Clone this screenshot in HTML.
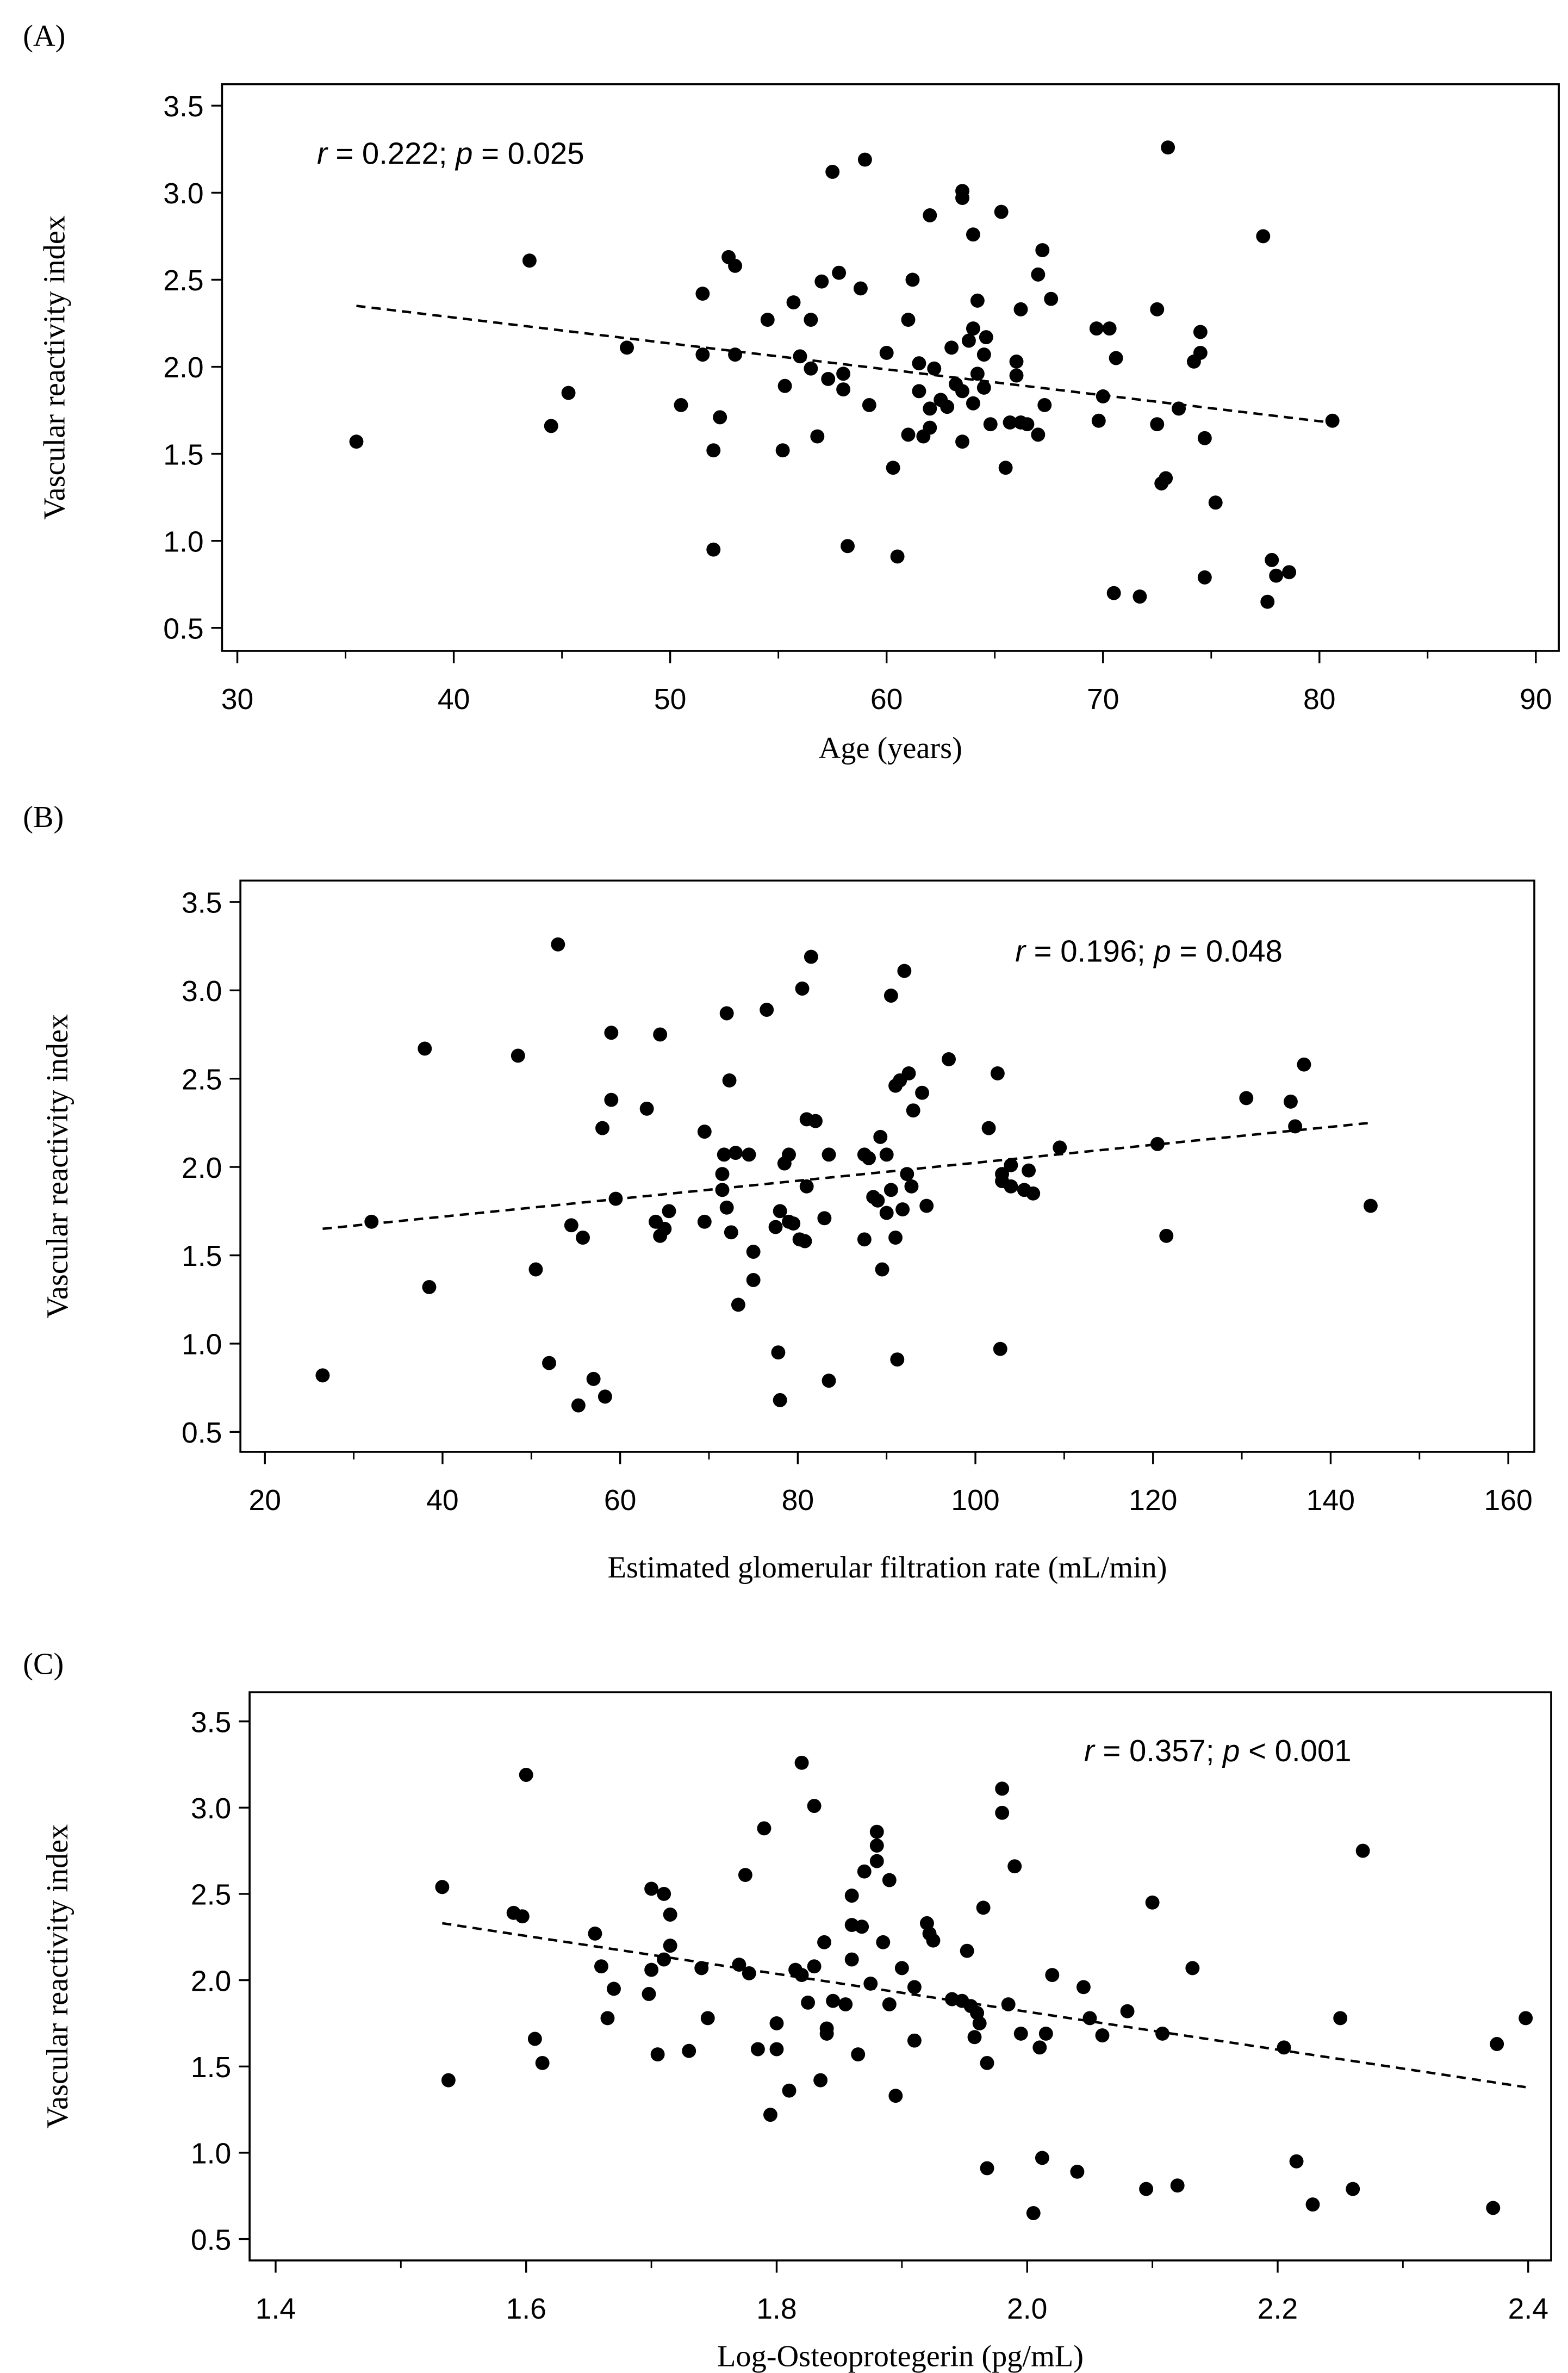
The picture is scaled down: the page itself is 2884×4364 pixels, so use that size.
<!DOCTYPE html>
<html><head><meta charset="utf-8"><style>
html,body{margin:0;padding:0;background:#fff;}
svg{display:block;}
.tk{font-family:"Liberation Sans",sans-serif;font-size:19px;fill:#000;}
.ttl{font-family:"Liberation Serif",serif;font-size:20px;fill:#000;}
.ann{font-family:"Liberation Sans",sans-serif;font-size:20px;fill:#000;}
</style></head><body>
<svg id="fig" width="2884" height="4364" viewBox="0 0 1024 1549.5" xmlns="http://www.w3.org/2000/svg">
<rect width="1024" height="1549.5" fill="#fff"/>
</svg>
<script>
const ageX=[35.5,43.5,44.5,45.3,48,50.5,51.5,51.5,52,52,52.3,52.7,53,53,54.5,55.2,55.3,55.7,56,56.5,56.5,56.8,57,57.3,57.5,57.8,58,58,58.2,58.8,59,59.2,60,60.3,60.5,61,61,61.2,61.5,61.5,61.7,62,62,62,62.2,62.5,62.8,63,63.2,63.5,63.5,63.5,63.5,63.8,64,64,64,64.2,64.2,64.5,64.5,64.6,64.8,65.3,65.5,65.7,66,66,66.2,66.2,66.5,67,67,67.2,67.3,67.6,69.7,69.8,70,70.3,70.6,70.5,71.7,72.5,72.5,72.7,72.9,73,73.5,74.2,74.5,74.5,74.7,74.7,75.2,77.4,77.6,77.8,78,78.6,80.6];
const ageY=[1.57,2.61,1.66,1.85,2.11,1.78,2.42,2.07,1.52,0.95,1.71,2.63,2.58,2.07,2.27,1.52,1.89,2.37,2.06,2.27,1.99,1.60,2.49,1.93,3.12,2.54,1.96,1.87,0.97,2.45,3.19,1.78,2.08,1.42,0.91,1.61,2.27,2.50,2.02,1.86,1.60,1.76,2.87,1.65,1.99,1.81,1.77,2.11,1.90,2.97,3.01,1.86,1.57,2.15,2.76,2.22,1.79,2.38,1.96,2.07,1.88,2.17,1.67,2.89,1.42,1.68,2.03,1.95,2.33,1.68,1.67,2.53,1.61,2.67,1.78,2.39,2.22,1.69,1.83,2.22,2.05,0.70,0.68,1.67,2.33,1.33,1.36,3.26,1.76,2.03,2.08,2.20,1.59,0.79,1.22,2.75,0.65,0.89,0.80,0.82,1.69];
const egfrX=[26.5,32,38,38.5,48.5,50.5,52,53,54.5,55.3,55.8,57,58,58.3,59,59,59.5,63,64,64.5,64.5,65,65.5,69.5,69.5,71.5,71.5,71.7,72,72,72.3,72.5,73,73.3,74.5,75,75,76.5,77.5,77.8,78,78,78.5,79,79,79.5,80.2,80.5,80.8,81,81,81.5,82,83,83.5,83.5,87.5,87.5,88,88.5,89,89.3,89.5,90,90,90.5,90.5,91,91,91.2,91.5,91.8,92,92.3,92.5,92.8,93,94,94.5,97,101.5,102.5,102.8,103,103,104,104,105.5,106,106.5,109.5,120.5,121.5,130.5,135.5,136,137,144.5];
const egfrY=[0.82,1.69,2.67,1.32,2.63,1.42,0.89,3.26,1.67,0.65,1.60,0.80,2.22,0.70,2.38,2.76,1.82,2.33,1.69,2.75,1.61,1.65,1.75,2.20,1.69,1.96,1.87,2.07,1.77,2.87,2.49,1.63,2.08,1.22,2.07,1.52,1.36,2.89,1.66,0.95,1.75,0.68,2.02,1.69,2.07,1.68,1.59,3.01,1.58,1.89,2.27,3.19,2.26,1.71,2.07,0.79,2.07,1.59,2.05,1.83,1.81,2.17,1.42,1.74,2.07,2.97,1.87,2.46,1.60,0.91,2.49,1.76,3.11,1.96,2.53,1.89,2.32,2.42,1.78,2.61,2.22,2.53,0.97,1.96,1.92,2.01,1.89,1.87,1.98,1.85,2.11,2.13,1.61,2.39,2.37,2.23,2.58,1.78];
const opgX=[1.533,1.538,1.59,1.597,1.60,1.607,1.613,1.655,1.66,1.665,1.67,1.698,1.70,1.70,1.705,1.71,1.71,1.715,1.715,1.73,1.74,1.745,1.77,1.775,1.778,1.785,1.79,1.795,1.80,1.80,1.81,1.815,1.82,1.825,1.83,1.83,1.835,1.838,1.84,1.84,1.845,1.82,1.855,1.86,1.86,1.86,1.865,1.868,1.87,1.875,1.88,1.88,1.88,1.885,1.89,1.89,1.895,1.90,1.91,1.91,1.92,1.922,1.925,1.94,1.948,1.952,1.955,1.958,1.96,1.962,1.965,1.968,1.968,1.98,1.98,1.985,1.99,1.995,2.005,2.01,2.012,2.015,2.02,2.04,2.045,2.05,2.06,2.08,2.095,2.10,2.108,2.12,2.132,2.205,2.215,2.228,2.25,2.26,2.268,2.372,2.375,2.398];
const opgY=[2.54,1.42,2.39,2.37,3.19,1.66,1.52,2.27,2.08,1.78,1.95,1.92,2.06,2.53,1.57,2.50,2.12,2.20,2.38,1.59,2.07,1.78,2.09,2.61,2.04,1.60,2.88,1.22,1.75,1.60,1.36,2.06,2.03,1.87,3.01,2.08,1.42,2.22,1.72,1.69,1.88,3.26,1.86,2.49,2.12,2.32,1.57,2.31,2.63,1.98,2.86,2.78,2.69,2.22,2.58,1.86,1.33,2.07,1.96,1.65,2.33,2.27,2.23,1.89,1.88,2.17,1.85,1.67,1.81,1.75,2.42,1.52,0.91,3.11,2.97,1.86,2.66,1.69,0.65,1.61,0.97,1.69,2.03,0.89,1.96,1.78,1.68,1.82,0.79,2.45,1.69,0.81,2.07,1.61,0.95,0.70,1.78,0.79,2.75,0.68,1.63,1.78];
const yTicks=[0.5,1.0,1.5,2.0,2.5,3.0,3.5];
const ageTicks=[30,40,50,60,70,80,90];
const egfrTicks=[20,40,60,80,100,120,140,160];
const opgTicks=[1.4,1.6,1.8,2.0,2.2,2.4];
const ageFit=[[35.5,2.35],[80.5,1.68]];
const egfrFit=[[26.5,1.65],[144.5,2.25]];
const opgFit=[[1.533,2.33],[2.398,1.38]];

const NS="http://www.w3.org/2000/svg";
const svg=document.getElementById('fig');
function mk(tag,attrs,parent,txt){const e=document.createElementNS(NS,tag);for(const k in attrs)e.setAttribute(k,attrs[k]);if(txt!==undefined)e.textContent=txt;(parent||svg).appendChild(e);return e;}

function panel(p){
  const g=mk('g',{});
  
  
  const sx=v=>p.px0+(v-p.xt[0])*(p.px1-p.px0)/(p.xt[p.xt.length-1]-p.xt[0]);
  const sy=v=>p.py0+(v-0.5)*(p.py1-p.py0)/3.0;
  const lab=mk('text',{x:p.lx,y:p.ly,class:'ttl'},g,p.letter);
  
  
  const box=mk('rect',{x:p.bx0,y:p.by0,width:p.bx1-p.bx0,height:p.by1-p.by0,fill:'none',stroke:'#000','stroke-width':1.3},g);
  
  
  yTicks.forEach(t=>{
    const y=sy(t);
    mk('line',{x1:p.bx0-7,x2:p.bx0,y1:y,y2:y,stroke:'#000','stroke-width':1.2},g);
    const tx=mk('text',{x:p.bx0-12,y:y+7,class:'tk','text-anchor':'end'},g,t.toFixed(1));
    
    
  });
  const step=p.xt[1]-p.xt[0];
  for(let i=0;i<p.xt.length;i++){
    const x=sx(p.xt[i]);
    mk('line',{x1:x,x2:x,y1:p.by1,y2:p.by1+8,stroke:'#000','stroke-width':1.2},g);
    if(i<p.xt.length-1){const xm=sx(p.xt[i]+step/2);mk('line',{x1:xm,x2:xm,y1:p.by1,y2:p.by1+5,stroke:'#000','stroke-width':1},g);}
    const tx=mk('text',{x:x,y:p.by1+38,class:'tk','text-anchor':'middle'},g,p.fmt(p.xt[i]));
    
    
  }
  const xt=mk('text',{x:(p.bx0+p.bx1)/2,y:p.xly,class:'ttl','text-anchor':'middle'},g,p.xlabel);
  
  
  const cy=(p.by0+p.by1)/2;
  const yt=mk('text',{x:p.ylx,y:cy,class:'ttl','text-anchor':'middle',transform:`rotate(-90 ${p.ylx} ${cy})`},g,'Vascular reactivity index');
  
  
  const an=mk('text',{x:p.ax,y:p.ay,class:'ann'},g);
  
  
  mk('tspan',{'font-style':'italic'},an,'r');
  mk('tspan',{},an,' = '+p.r+'; ');
  mk('tspan',{'font-style':'italic'},an,'p');
  mk('tspan',{},an,' '+p.p);
  const fl=mk('line',{x1:sx(p.fit[0][0]),y1:sy(p.fit[0][1]),x2:sx(p.fit[1][0]),y2:sy(p.fit[1][1]),stroke:'#000','stroke-width':1.6,'stroke-dasharray':'6,4'},g);
  
  
  for(let i=0;i<p.X.length;i++){
    const c=mk('circle',{cx:sx(p.X[i]),cy:sy(p.Y[i]),r:4.6,fill:'#000'},g);
    
    
  }
}
panel({name:'panel-a-age',letter:'(A)',lx:15,ly:30,bx0:145,bx1:1018,by0:55,by1:425,px0:155,px1:1003,py0:410,py1:69,xt:ageTicks,fmt:v=>String(v),X:ageX,Y:ageY,fit:ageFit,xlabel:'Age (years)',xly:495,ylx:42,ax:207,ay:107,r:'0.222',p:'= 0.025'});
panel({name:'panel-b-egfr',letter:'(B)',lx:15,ly:540,bx0:157,bx1:1002,by0:575,by1:948,px0:173,px1:985,py0:935,py1:589,xt:egfrTicks,fmt:v=>String(v),X:egfrX,Y:egfrY,fit:egfrFit,xlabel:'Estimated glomerular filtration rate (mL/min)',xly:1030,ylx:44,ax:663,ay:628,r:'0.196',p:'= 0.048'});
panel({name:'panel-c-opg',letter:'(C)',lx:15,ly:1093,bx0:163,bx1:1013,by0:1105,by1:1476,px0:180,px1:998,py0:1462,py1:1124,xt:opgTicks,fmt:v=>v.toFixed(1),X:opgX,Y:opgY,fit:opgFit,xlabel:'Log-Osteoprotegerin (pg/mL)',xly:1545,ylx:44,ax:708,ay:1150,r:'0.357',p:'< 0.001'});
</script>
</body></html>
